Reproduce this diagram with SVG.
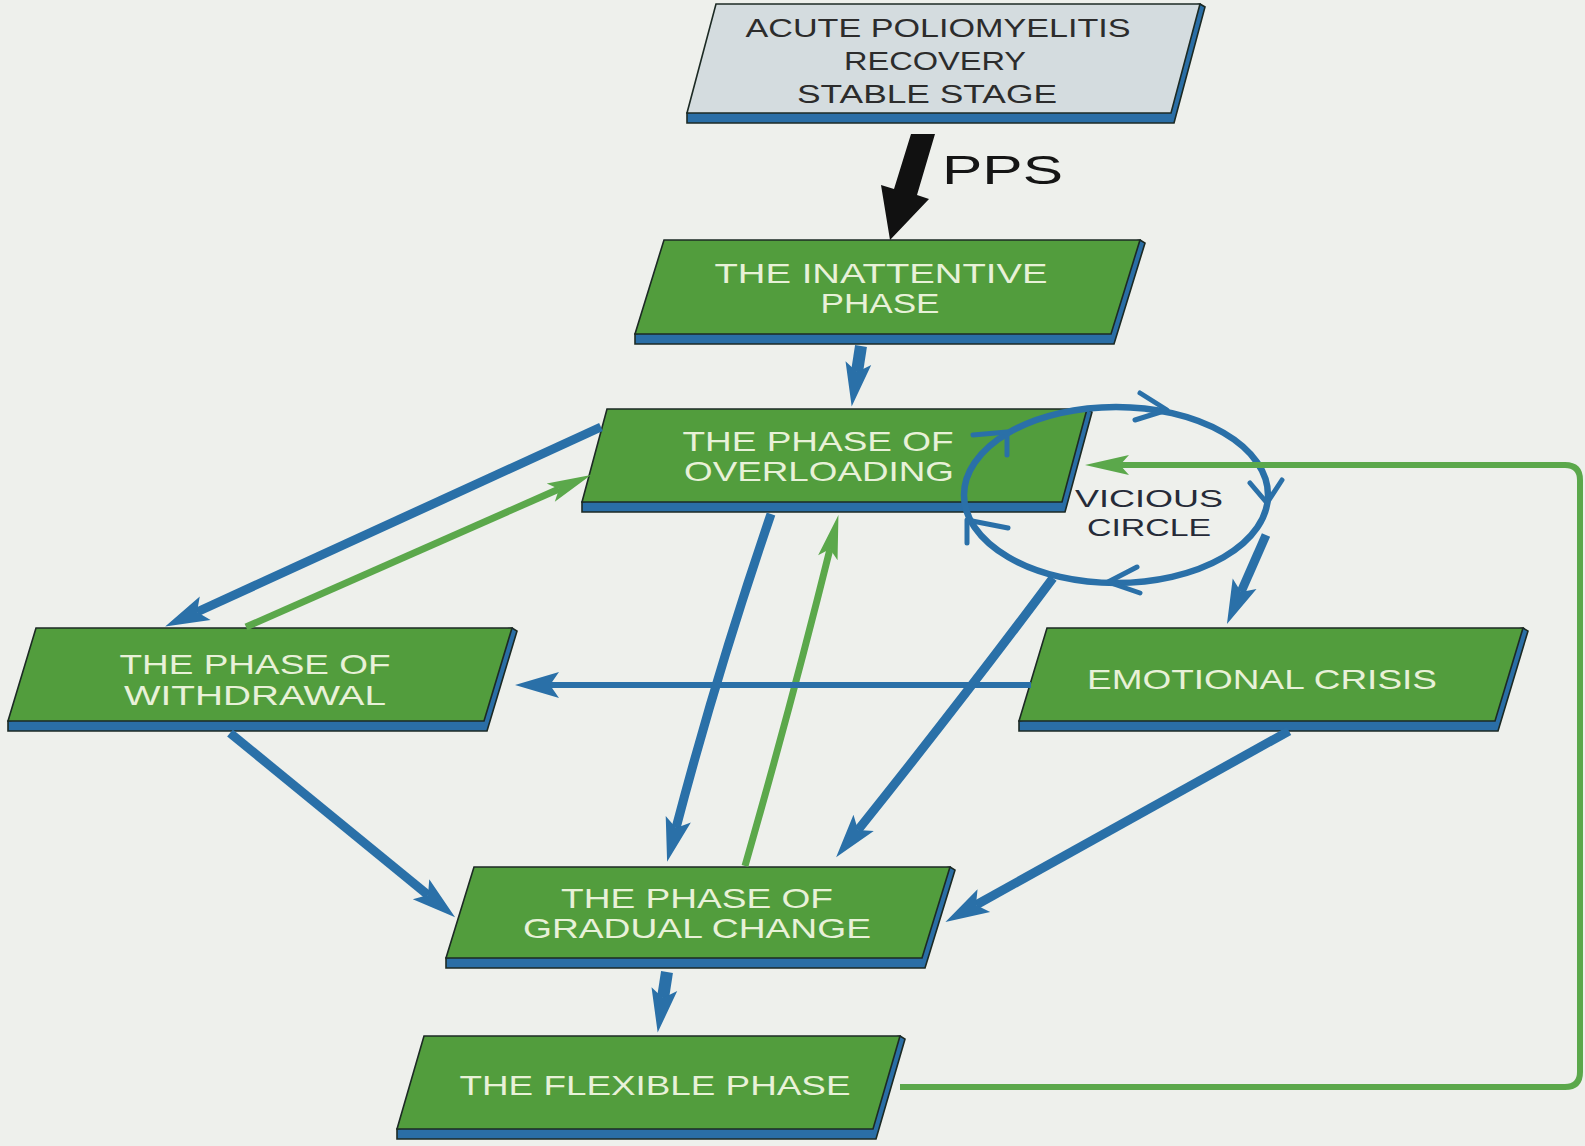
<svg xmlns="http://www.w3.org/2000/svg" width="1585" height="1146" viewBox="0 0 1585 1146">
<style>
.face{fill:#529d3d;stroke:#1c2a24;stroke-width:1.6;stroke-linejoin:miter}
.slab{fill:#2a6ea6;stroke:#1c2a24;stroke-width:1.6}
.topface{fill:#d4dcdf;stroke:#1c2a24;stroke-width:1.6}
.lbl{font-family:"Liberation Sans",Arial,sans-serif;font-size:28px;fill:#e8f1d8;text-anchor:middle}
.toplbl{font-family:"Liberation Sans",Arial,sans-serif;font-size:25px;fill:#2c2c2c;text-anchor:middle}
.vc{font-family:"Liberation Sans",Arial,sans-serif;font-size:23px;fill:#262b38;text-anchor:middle}
.pps{font-family:"Liberation Sans",Arial,sans-serif;font-size:41px;fill:#151515}
.b{fill:none;stroke:#2a70a8;stroke-width:9;marker-end:url(#hb)}
.g{fill:none;stroke:#5ba84b;stroke-width:7;marker-end:url(#hg)}
.circ{fill:none;stroke:#2a70a8;stroke-width:6.5}
.chev{fill:none;stroke:#2a70a8;stroke-width:5;stroke-linecap:round;stroke-linejoin:round}
</style>
<defs>
<marker id="hb" markerUnits="userSpaceOnUse" viewBox="0 -15 46 30" refX="9" refY="0" markerWidth="46" markerHeight="30" orient="auto" overflow="visible">
<path d="M0,-13 L44,0 L0,13 L9,0 Z" fill="#2a70a8"/>
</marker>
<marker id="hg" markerUnits="userSpaceOnUse" viewBox="0 -15 46 30" refX="9" refY="0" markerWidth="46" markerHeight="30" orient="auto" overflow="visible">
<path d="M0,-10 L44,0 L0,10 L9,0 Z" fill="#5ba84b"/>
</marker>
</defs>
<rect x="0" y="0" width="1585" height="1146" fill="#eef0ec"/>

<g id="node-acute">
<polygon class="slab" points="1200,4 1205,7 1174,123 687,123 687,113"/>
<polygon class="topface" points="716,4 1200,4 1171,113 687,113"/>
<text class="toplbl" x="938" y="37" textLength="385" lengthAdjust="spacingAndGlyphs">ACUTE POLIOMYELITIS</text>
<text class="toplbl" x="935" y="70" textLength="182" lengthAdjust="spacingAndGlyphs">RECOVERY</text>
<text class="toplbl" x="927" y="103" textLength="260" lengthAdjust="spacingAndGlyphs">STABLE STAGE</text>
</g>

<g id="node-inattentive">
<polygon class="slab" points="1140,240 1145,243 1114,344 635,344 635,334"/>
<polygon class="face" points="664,240 1140,240 1111,334 635,334"/>
<text class="lbl" x="881" y="283" textLength="333" lengthAdjust="spacingAndGlyphs">THE INATTENTIVE</text>
<text class="lbl" x="880" y="313" textLength="119" lengthAdjust="spacingAndGlyphs">PHASE</text>
</g>

<g id="node-overloading">
<polygon class="slab" points="1087,409 1092,412 1065,512 582,512 582,502"/>
<polygon class="face" points="607,409 1087,409 1062,502 582,502"/>
<text class="lbl" x="818" y="451" textLength="271" lengthAdjust="spacingAndGlyphs">THE PHASE OF</text>
<text class="lbl" x="819" y="481" textLength="270" lengthAdjust="spacingAndGlyphs">OVERLOADING</text>
</g>

<g id="node-withdrawal">
<polygon class="slab" points="512,628 517,631 487,731 8,731 8,721"/>
<polygon class="face" points="36,628 512,628 484,721 8,721"/>
<text class="lbl" x="255" y="674" textLength="271" lengthAdjust="spacingAndGlyphs">THE PHASE OF</text>
<text class="lbl" x="255" y="705" textLength="262" lengthAdjust="spacingAndGlyphs">WITHDRAWAL</text>
</g>

<g id="node-emotional">
<polygon class="slab" points="1523,628 1528,631 1498,731 1019,731 1019,721"/>
<polygon class="face" points="1047,628 1523,628 1495,721 1019,721"/>
<text class="lbl" x="1262" y="689" textLength="350" lengthAdjust="spacingAndGlyphs">EMOTIONAL CRISIS</text>
</g>

<g id="node-gradual">
<polygon class="slab" points="950,867 955,870 925,968 446,968 446,958"/>
<polygon class="face" points="474,867 950,867 922,958 446,958"/>
<text class="lbl" x="697" y="908" textLength="272" lengthAdjust="spacingAndGlyphs">THE PHASE OF</text>
<text class="lbl" x="697" y="938" textLength="348" lengthAdjust="spacingAndGlyphs">GRADUAL CHANGE</text>
</g>

<g id="node-flexible">
<polygon class="slab" points="900,1036 905,1039 876,1139 397,1139 397,1129"/>
<polygon class="face" points="424,1036 900,1036 873,1129 397,1129"/>
<text class="lbl" x="655" y="1095" textLength="391" lengthAdjust="spacingAndGlyphs">THE FLEXIBLE PHASE</text>
</g>

<g id="node-vicious-circle">
<ellipse class="circ" cx="1116" cy="495" rx="152" ry="88"/>
<polyline class="chev" points="1140,393 1167,410 1135,420"/>
<polyline class="chev" points="973,435 1007,432 1007,455"/>
<polyline class="chev" points="1250,483 1267,503 1282,480"/>
<polyline class="chev" points="1137,567 1108,582 1140,593"/>
<polyline class="chev" points="967,543 967,520 1008,528"/>
<text class="vc" x="1149" y="507" textLength="148" lengthAdjust="spacingAndGlyphs">VICIOUS</text>
<text class="vc" x="1149" y="536" textLength="124" lengthAdjust="spacingAndGlyphs">CIRCLE</text>
</g>

<g id="connectors">
<polygon id="pps-arrow" fill="#111" points="911,134 935,134 917,195 929,199 890,240 881,185 894,189"/>
<text class="pps" x="942" y="184" textLength="121" lengthAdjust="spacingAndGlyphs">PPS</text>
<path class="b" style="stroke-width:12" d="M861,346 L857,372"/>
<path class="b" d="M601,427 L197,612"/>
<path class="g" d="M246,627 L559,489"/>
<path class="b" d="M771,514 Q717,672 676,828"/>
<path class="g" d="M745,866 Q792,702 830,549"/>
<path class="b" style="stroke-width:6" d="M1031,685 L550,685"/>
<path class="b" d="M1053,578 Q962,700 858,830"/>
<path class="b" d="M1289,731 L976,905"/>
<path class="b" d="M230,733 L428,895"/>
<path class="b" style="stroke-width:12" d="M667,972 L663,998"/>
<path class="b" d="M1266,535 L1241,592"/>
<path class="g" style="stroke-width:6" d="M900,1087 H1565 Q1580,1087 1580,1072 V480 Q1580,465 1565,465 H1120"/>
</g>
</svg>
